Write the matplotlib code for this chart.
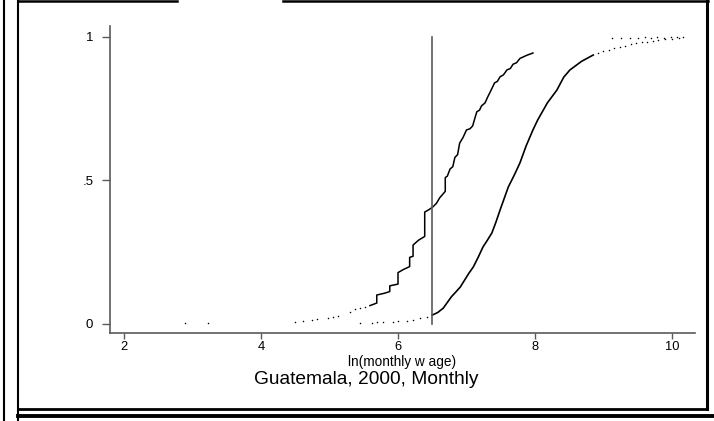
import matplotlib
matplotlib.use("Agg")
import matplotlib.pyplot as plt

plt.rcParams['font.family'] = ['Liberation Sans', 'DejaVu Sans']

# cumulative distribution of ln(monthly wage), first group (sparser sample)
grp1_tail_x = [2.89, 3.23, 4.50, 4.61, 4.74, 4.82, 4.98, 5.05, 5.12, 5.30, 5.37, 5.45, 5.52]
grp1_tail_y = [0.002, 0.002, 0.006, 0.010, 0.014, 0.017, 0.022, 0.025, 0.029, 0.043, 0.051, 0.055, 0.058]
grp1_x = [5.59, 5.69, 5.69, 5.80, 5.88, 5.88, 5.96, 6.00, 6.00, 6.08, 6.17, 6.17, 6.22, 6.22,
          6.30, 6.39, 6.39, 6.45, 6.51, 6.56, 6.61, 6.69, 6.69, 6.72, 6.76, 6.80, 6.83, 6.87,
          6.90, 6.95, 7.00, 7.05, 7.09, 7.12, 7.15, 7.19, 7.22, 7.27, 7.31, 7.36, 7.41, 7.45,
          7.49, 7.54, 7.59, 7.64, 7.68, 7.73, 7.78, 7.88, 7.97]
grp1_y = [0.064, 0.073, 0.101, 0.107, 0.113, 0.133, 0.137, 0.139, 0.179, 0.190, 0.200, 0.232,
          0.236, 0.275, 0.292, 0.305, 0.390, 0.398, 0.408, 0.420, 0.440, 0.462, 0.510, 0.515,
          0.540, 0.548, 0.580, 0.590, 0.630, 0.650, 0.676, 0.680, 0.690, 0.715, 0.739, 0.745,
          0.760, 0.770, 0.791, 0.815, 0.840, 0.845, 0.861, 0.868, 0.885, 0.890, 0.905, 0.910,
          0.925, 0.936, 0.944]

# second group
grp2_tail_x = [5.45, 5.62, 5.70, 5.78, 5.93, 6.00, 6.13, 6.22, 6.32, 6.42]
grp2_tail_y = [0.002, 0.005, 0.006, 0.007, 0.008, 0.009, 0.011, 0.015, 0.020, 0.024]
grp2_x = [6.50, 6.58, 6.66, 6.72, 6.78, 6.85, 6.91, 6.97, 7.03, 7.10, 7.17, 7.24, 7.30, 7.37,
          7.43, 7.49, 7.55, 7.61, 7.70, 7.78, 7.87, 7.97, 8.04, 8.18, 8.32, 8.42, 8.51, 8.68, 8.85]
grp2_y = [0.031, 0.040, 0.055, 0.075, 0.095, 0.113, 0.129, 0.152, 0.175, 0.199, 0.232, 0.268,
          0.290, 0.317, 0.355, 0.397, 0.437, 0.477, 0.520, 0.561, 0.620, 0.676, 0.711, 0.770,
          0.815, 0.860, 0.885, 0.915, 0.937]
grp2_top_x = [8.92, 9.00, 9.08, 9.16, 9.24, 9.32, 9.40, 9.48, 9.56, 9.64, 9.72, 9.80, 9.90,
              10.00, 10.10, 10.16, 9.12, 9.25, 9.38, 9.50, 9.60, 9.70, 9.78, 9.88, 9.98, 10.08]
grp2_top_y = [0.944, 0.950, 0.955, 0.960, 0.965, 0.970, 0.975, 0.978, 0.981, 0.984, 0.987,
              0.990, 0.992, 0.994, 0.997, 0.999, 0.995, 0.995, 0.996, 0.997, 0.999, 0.997,
              1.000, 0.998, 1.000, 1.000]

cutoff = 6.5
xticks = [2, 4, 6, 8, 10]
yticks = [0, 0.5, 1]
ytick_labels = ['0', '.5', '1']

axis_col = '#5a5a5a'

fig = plt.figure(figsize=(7.14, 4.21), dpi=100)

# frame lines around the panel (pixel coordinates)
frame = fig.add_axes([0, 0, 1, 1])
frame.set_xlim(0, 714)
frame.set_ylim(421, 0)
frame.axis('off')
frame.plot([4, 4], [0, 421], color='black', lw=1.5)
frame.plot([18, 18], [0, 421], color='black', lw=1.5)
frame.plot([18, 177], [0.8, 0.8], color='black', lw=1.8)
frame.plot([283, 708], [0.8, 0.8], color='black', lw=1.8)
frame.plot([706.5, 706.5], [0, 409], color='black', lw=2.2)
frame.plot([18, 707], [408.5, 408.5], color='black', lw=2.0)
frame.plot([18, 714], [415.5, 415.5], color='black', lw=2.8)

ax = fig.add_axes([0.1541, 0.2090, 0.8193, 0.7292])
ax.set_xlim(1.796, 10.336)
ax.set_ylim(-0.0314, 1.038)

ax.plot(grp1_x, grp1_y, color='black', lw=1.1)
ax.scatter(grp1_tail_x, grp1_tail_y, s=1.2, color='black', lw=0)
ax.plot(grp2_x, grp2_y, color='black', lw=1.2)
ax.scatter(grp2_tail_x, grp2_tail_y, s=1.2, color='black', lw=0)
ax.scatter(grp2_top_x, grp2_top_y, s=1.2, color='black', lw=0)
ax.plot([cutoff, cutoff], [0, 1], color=axis_col, lw=1.2)

for side in ['top', 'right']:
    ax.spines[side].set_visible(False)
for side in ['left', 'bottom']:
    ax.spines[side].set_color(axis_col)
    ax.spines[side].set_linewidth(1.2)

ax.set_xticks(xticks)
ax.set_xticklabels([str(t) for t in xticks])
ax.set_yticks(yticks)
ax.set_yticklabels(ytick_labels)
ax.tick_params(axis='x', length=4.3, width=1.0, color=axis_col, pad=1.5, labelsize=9.3)
ax.tick_params(axis='y', length=6, width=1.0, color=axis_col, pad=6, labelsize=9.5)

fig.text(402 / 714, 1 - 366 / 421, 'ln(monthly w age)', ha='center', va='baseline', fontsize=9.8)
fig.text(366 / 714, 1 - 384 / 421, 'Guatemala, 2000, Monthly', ha='center', va='baseline',
         fontsize=13.8)

fig.savefig('out.png', dpi=100)
